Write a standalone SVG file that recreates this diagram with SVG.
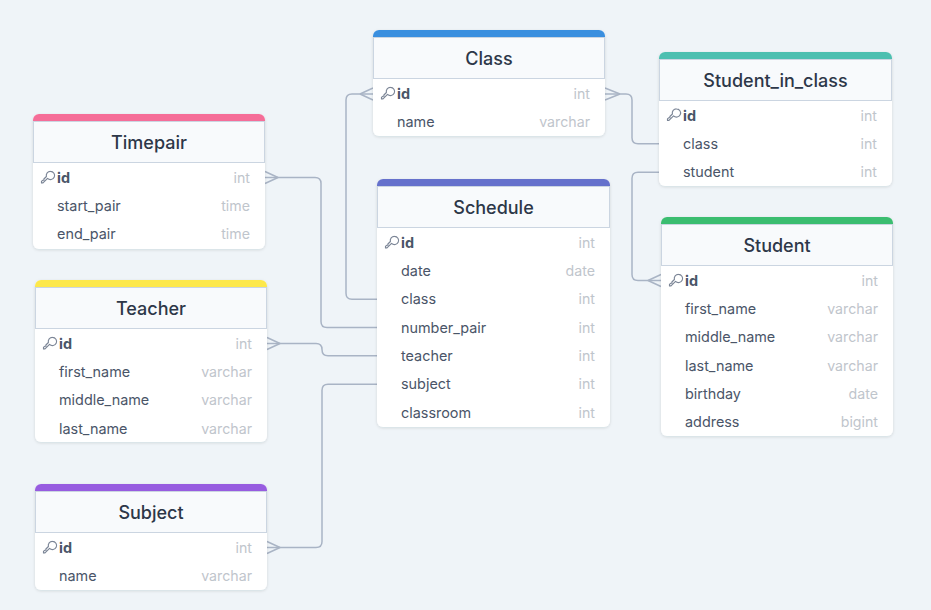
<svg xmlns="http://www.w3.org/2000/svg" width="931" height="610" viewBox="0 0 931 610">
<defs>
<filter id="sh" x="-10%" y="-10%" width="120%" height="125%">
<feDropShadow dx="0" dy="1" stdDeviation="1.6" flood-color="#1e293b" flood-opacity="0.13"/>
</filter>
<symbol id="key" viewBox="0 0 14 14" overflow="visible">
<path d="M9.2 1.2a3.6 3.6 0 1 1 -2.6 6.1 L2.6 11.3 L1.3 11.3 L1.3 10 L2.3 9 L3.4 9 L3.4 7.9 L5.6 5.7 A3.6 3.6 0 0 1 9.2 1.2 Z" fill="none" stroke="#7b8596" stroke-width="1" stroke-linejoin="round"/>
</symbol>
</defs>
<style>
.body{fill:#ffffff;filter:url(#sh)}
.hdr{fill:#f8fafc;stroke:#cbd5e1;stroke-width:1}
.title{font-family:Inter,"Noto Sans",sans-serif;font-size:18px;font-weight:500;fill:#2d3748;text-anchor:middle}
.f{font-family:Inter,"Noto Sans",sans-serif;font-size:14.4px;fill:#4a5568}
.pk{font-weight:700}
.t{font-family:Inter,"Noto Sans",sans-serif;font-size:14.2px;fill:#bfc5cc;text-anchor:end}
.conn path{fill:none;stroke:#a9b4c5;stroke-width:1.5}
</style>
<rect width="931" height="610" fill="#eff4f8"/>

<g class="conn" id="connectors">
<path d="M377,299.2 H352 Q346,299.2 346,293.2 V100 Q346,94 352,94 H373"/>
<path d="M360,94 L373,88 M360,94 L373,100"/>
<path d="M605,94 H626 Q632,94 632,100 V137.8 Q632,143.8 638,143.8 H659"/>
<path d="M620,94 L605,88 M620,94 L605,100"/>
<path d="M659,172.2 H638 Q632,172.2 632,178.2 V274.5 Q632,280.5 638,280.5 H661"/>
<path d="M648,280.5 L661,274.5 M648,280.5 L661,286.5"/>
<path d="M265,177.5 H315 Q321,177.5 321,183.5 V321.5 Q321,327.5 327,327.5 H377"/>
<path d="M278,177.5 L265,171.5 M278,177.5 L265,183.5"/>
<path d="M267,343.5 H316 Q322,343.5 322,349.5 Q322,355.8 328,355.8 H377"/>
<path d="M280,343.5 L267,337.5 M280,343.5 L267,349.5"/>
<path d="M377,384.2 H328 Q322,384.2 322,390.2 V541.5 Q322,547.5 316,547.5 H267"/>
<path d="M280,547.5 L267,541.5 M280,547.5 L267,553.5"/>
</g>

<g id="t-class">
<rect class="body" x="373" y="30" width="232" height="106" rx="6"/>
<path d="M373,37 V36 A6,6 0 0 1 379,30 H599 A6,6 0 0 1 605,36 V37 Z" fill="#3a8fdf"/>
<rect class="hdr" x="373.5" y="37.5" width="231" height="41"/>
<text class="title" x="489" y="64.5">Class</text>
<use href="#key" x="380" y="86" width="16" height="16"/>
<text class="f pk" x="397" y="99">id</text><text class="t" x="590" y="99">int</text>
<text class="f" x="397" y="127.3">name</text><text class="t" x="590" y="127.3">varchar</text>
</g>

<g id="t-student_in_class">
<rect class="body" x="659" y="52" width="233" height="134" rx="6"/>
<path d="M659,59 V58 A6,6 0 0 1 665,52 H886 A6,6 0 0 1 892,58 V59 Z" fill="#4cbfb0"/>
<rect class="hdr" x="659.5" y="59.5" width="232" height="41"/>
<text class="title" x="775.5" y="86.5">Student_in_class</text>
<use href="#key" x="666" y="107.5" width="16" height="16"/>
<text class="f pk" x="683" y="120.5">id</text><text class="t" x="877" y="120.5">int</text>
<text class="f" x="683" y="148.8">class</text><text class="t" x="877" y="148.8">int</text>
<text class="f" x="683" y="177.2">student</text><text class="t" x="877" y="177.2">int</text>
</g>

<g id="t-timepair">
<rect class="body" x="33" y="114" width="232" height="135" rx="6"/>
<path d="M33,121 V120 A6,6 0 0 1 39,114 H259 A6,6 0 0 1 265,120 V121 Z" fill="#f56d98"/>
<rect class="hdr" x="33.5" y="121.5" width="231" height="41"/>
<text class="title" x="149" y="148.5">Timepair</text>
<use href="#key" x="40" y="170" width="16" height="16"/>
<text class="f pk" x="57" y="182.5">id</text><text class="t" x="250" y="182.5">int</text>
<text class="f" x="57" y="210.8">start_pair</text><text class="t" x="250" y="210.8">time</text>
<text class="f" x="57" y="239.2">end_pair</text><text class="t" x="250" y="239.2">time</text>
</g>

<g id="t-schedule">
<rect class="body" x="377" y="179" width="233" height="248" rx="6"/>
<path d="M377,186 V185 A6,6 0 0 1 383,179 H604 A6,6 0 0 1 610,185 V186 Z" fill="#6571cc"/>
<rect class="hdr" x="377.5" y="186.5" width="232" height="41"/>
<text class="title" x="493.5" y="213.5">Schedule</text>
<use href="#key" x="384" y="235" width="16" height="16"/>
<text class="f pk" x="401" y="247.5">id</text><text class="t" x="595" y="247.5">int</text>
<text class="f" x="401" y="275.8">date</text><text class="t" x="595" y="275.8">date</text>
<text class="f" x="401" y="304.2">class</text><text class="t" x="595" y="304.2">int</text>
<text class="f" x="401" y="332.5">number_pair</text><text class="t" x="595" y="332.5">int</text>
<text class="f" x="401" y="360.8">teacher</text><text class="t" x="595" y="360.8">int</text>
<text class="f" x="401" y="389.2">subject</text><text class="t" x="595" y="389.2">int</text>
<text class="f" x="401" y="417.5">classroom</text><text class="t" x="595" y="417.5">int</text>
</g>

<g id="t-teacher">
<rect class="body" x="35" y="280" width="232" height="162" rx="6"/>
<path d="M35,287 V286 A6,6 0 0 1 41,280 H261 A6,6 0 0 1 267,286 V287 Z" fill="#fde84b"/>
<rect class="hdr" x="35.5" y="287.5" width="231" height="41"/>
<text class="title" x="151" y="314.5">Teacher</text>
<use href="#key" x="42" y="336" width="16" height="16"/>
<text class="f pk" x="59" y="348.5">id</text><text class="t" x="252" y="348.5">int</text>
<text class="f" x="59" y="376.8">first_name</text><text class="t" x="252" y="376.8">varchar</text>
<text class="f" x="59" y="405.2">middle_name</text><text class="t" x="252" y="405.2">varchar</text>
<text class="f" x="59" y="433.5">last_name</text><text class="t" x="252" y="433.5">varchar</text>
</g>

<g id="t-subject">
<rect class="body" x="35" y="484" width="232" height="106" rx="6"/>
<path d="M35,491 V490 A6,6 0 0 1 41,484 H261 A6,6 0 0 1 267,490 V491 Z" fill="#975ce0"/>
<rect class="hdr" x="35.5" y="491.5" width="231" height="41"/>
<text class="title" x="151" y="518.5">Subject</text>
<use href="#key" x="42" y="540" width="16" height="16"/>
<text class="f pk" x="59" y="552.5">id</text><text class="t" x="252" y="552.5">int</text>
<text class="f" x="59" y="580.8">name</text><text class="t" x="252" y="580.8">varchar</text>
</g>

<g id="t-student">
<rect class="body" x="661" y="217" width="232" height="219" rx="6"/>
<path d="M661,224 V223 A6,6 0 0 1 667,217 H887 A6,6 0 0 1 893,223 V224 Z" fill="#3bbd70"/>
<rect class="hdr" x="661.5" y="224.5" width="231" height="41"/>
<text class="title" x="777" y="251.5">Student</text>
<use href="#key" x="668" y="273" width="16" height="16"/>
<text class="f pk" x="685" y="285.5">id</text><text class="t" x="878" y="285.5">int</text>
<text class="f" x="685" y="313.8">first_name</text><text class="t" x="878" y="313.8">varchar</text>
<text class="f" x="685" y="342.2">middle_name</text><text class="t" x="878" y="342.2">varchar</text>
<text class="f" x="685" y="370.5">last_name</text><text class="t" x="878" y="370.5">varchar</text>
<text class="f" x="685" y="398.8">birthday</text><text class="t" x="878" y="398.8">date</text>
<text class="f" x="685" y="427.2">address</text><text class="t" x="878" y="427.2">bigint</text>
</g>
</svg>
